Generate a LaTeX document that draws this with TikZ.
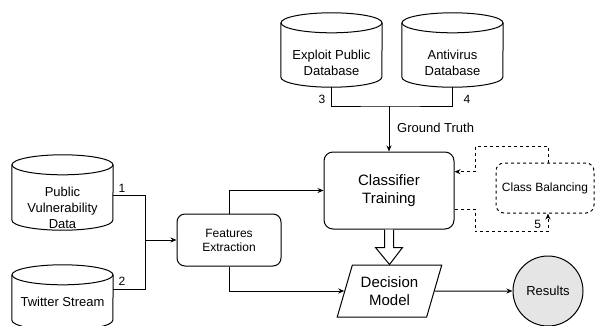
\documentclass[tikz,border=0pt]{standalone}
\usepackage{fontspec}
\setmainfont{Liberation Sans}
\usetikzlibrary{arrows.meta,shapes.geometric,calc}
\newcommand\drawcyl[1]{%
  \draw[ln] ($(#1.north west)+(0,10)$) -- ($(#1.south west)+(0,-10)$)
     arc[start angle=180,end angle=0,x radius=50.5,y radius=10]
     -- ($(#1.north east)+(0,10)$);
  \draw[ln] ($(#1.north)+(0,10)$) ellipse[x radius=50.5,y radius=10];}
\begin{document}
\begin{tikzpicture}[x=1pt,y=-1pt,
  ln/.style={line width=1pt,draw=black},
  arr/.style={ln,-{Stealth[length=6pt,width=5pt]}},
  dl/.style={ln,dash pattern=on 3pt off 3pt},
  cylbox/.style={rectangle,draw=none,minimum width=101pt,inner sep=0pt},
  txt/.style={align=center,font=\fontsize{13}{16}\selectfont,inner sep=0pt},
  big/.style={align=center,font=\fontsize{15}{18}\selectfont},
  small/.style={align=center,font=\fontsize{12}{14}\selectfont},
  num/.style={font=\fontsize{12}{14}\selectfont,inner sep=0pt},
  rbox/.style={ln,rectangle,rounded corners=9pt,fill=white}]
\useasboundingbox (0,0) rectangle (595,325);

% cylinders
\node[cylbox,minimum height=74pt] (ex) at (331.5,50) {};
\drawcyl{ex}
\node[txt] (exT) at (331.5,63) {Exploit Public\\Database};
\node[cylbox,minimum height=74pt] (av) at (452.5,50) {};
\drawcyl{av}
\node[txt] (avT) at (452.5,63) {Antivirus\\Database};
\node[cylbox,minimum height=75pt] (pvd) at (62.5,192.5) {};
\drawcyl{pvd}
\node[txt] (pvdT) at (62.5,207.5) {Public\\Vulnerability\\Data};
\node[cylbox,minimum height=65pt] (tw) at (62.5,297.5) {};
\drawcyl{tw}
\node[txt] (twT) at (62.5,302) {Twitter Stream};

% boxes
\node[rbox,big,minimum width=130pt,minimum height=77pt] (ct) at (389,190.5) {Classifier\\Training};
\node[rbox,small,rounded corners=8pt,minimum width=104pt,minimum height=52pt] (fe) at (229,240) {Features\\Extraction};
\node[rbox,small,dl,rounded corners=8pt,minimum width=98pt,minimum height=50pt] (cb) at (545,188) {Class Balancing};
\node[ln,big,trapezium,trapezium left angle=68,trapezium right angle=112,trapezium stretches=true,
      minimum width=105pt,minimum height=52pt,inner sep=0pt] (dm) at (389.5,291) {Decision\\Model};
\node[ln,circle,fill=black!10,minimum size=70pt,inner sep=0pt,font=\fontsize{13}{16}\selectfont] (res) at (548,291) {Results};

% ground truth
\coordinate (gt) at (389,106);
\draw[ln] (ex.south) |- (gt) -| (av.south);
\draw[arr] (gt) -- (ct.north);
\node[txt,anchor=west] (gtT) at (397,128) {Ground Truth};
\node[num] (n3) at (322,99) {3};
\node[num] (n4) at (467,99) {4};

% left inputs
\coordinate (j1) at (145.7,240);
\draw[ln] ($(pvd.east)+(0,3.2)$) -| (j1);
\draw[ln] ($(tw.east)+(0,-8.5)$) -| (j1);
\draw[arr] (j1) -- (fe.west);
\node[num] (n1) at (122,188) {1};
\node[num] (n2) at (122,281) {2};

% features outputs
\draw[arr] (fe.north) |- (ct.west);
\draw[arr] (fe.south) |- (dm.west);

% hollow arrow
\draw[ln,fill=white,line join=miter] ($(ct.south)+(-4.5,0)$) -- ++(0,18) -- ++(-9,0) -- (dm.north)
   -- ($(ct.south)+(13.5,18)$) -- ++(-9,0) -- ($(ct.south)+(4.5,0)$);

% decision to results
\draw[arr] (dm.east) -- (res.west);

% class balancing loop
\draw[dl,-{Stealth[length=6pt,width=5pt]}] ($(cb.north)+(3,0)$) |- (475,146) |- ($(ct.east)+(0,-18.8)$);
\draw[dl,-{Stealth[length=6pt,width=5pt]}] ($(ct.east)+(0,18.5)$) -| (475,231.7) -| ($(cb.south)+(3,0)$);
\node[num] (n5) at (537.7,224) {5};
\end{tikzpicture}
\end{document}
